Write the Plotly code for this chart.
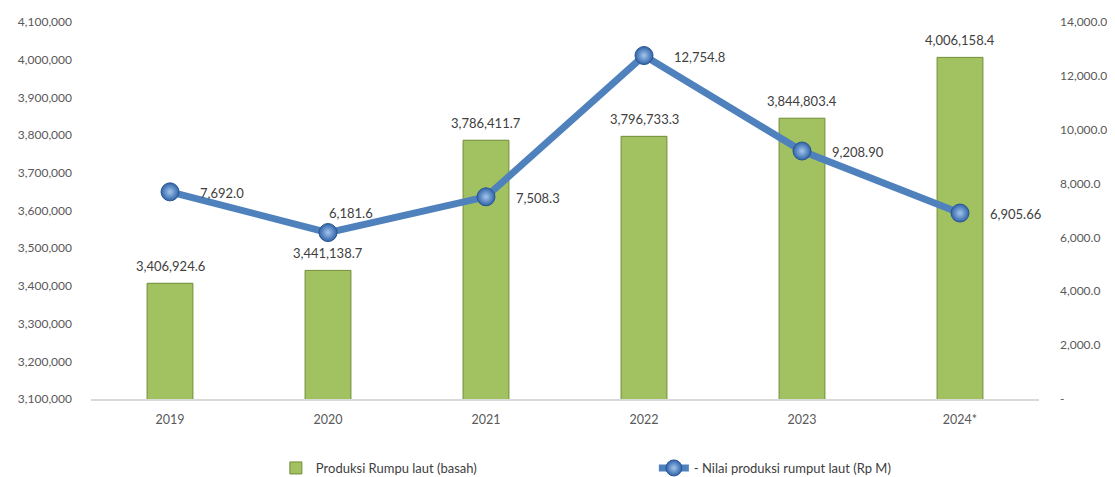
import plotly.graph_objects as go

years = ["2019", "2020", "2021", "2022", "2023", "2024*"]
produksi = [3406924.6, 3441138.7, 3786411.7, 3796733.3, 3844803.4, 4006158.4]
produksi_labels = ["3,406,924.6", "3,441,138.7", "3,786,411.7", "3,796,733.3", "3,844,803.4", "4,006,158.4"]
nilai = [7692.0, 6181.6, 7508.3, 12754.8, 9208.90, 6905.66]
nilai_labels = ["7,692.0", "6,181.6", "7,508.3", "12,754.8", "9,208.90", "6,905.66"]

left_ticks = [3100000 + 100000 * i for i in range(11)]
right_ticks = [0, 2000, 4000, 6000, 8000, 10000, 12000, 14000]
right_ticktext = ["-", "2,000.0", "4,000.0", "6,000.0", "8,000.0", "10,000.0", "12,000.0", "14,000.0"]

xpos = list(range(len(years)))

FONT = "Lato"
TXT = "#404040"

fig = go.Figure()
fig.add_trace(go.Bar(
    x=xpos, y=produksi, name="Produksi Rumpu laut (basah)",
    marker=dict(color="#A2C262", line=dict(color="#6F8C35", width=1)),
    width=0.29,
    cliponaxis=False,
))
fig.add_trace(go.Scatter(
    x=xpos, y=nilai, name="- Nilai produksi rumput laut (Rp M)",
    mode="lines+markers", yaxis="y2",
    line=dict(color="#4F81BD", width=7),
    marker=dict(size=18, color="#2F63A8", line=dict(color="#2A5590", width=1),
                gradient=dict(type="radial", color="#A4C6EE")),
    cliponaxis=False,
))

for i, (v, t) in enumerate(zip(produksi, produksi_labels)):
    fig.add_annotation(x=xpos[i], y=v, xref="x", yref="y", text=t, showarrow=False,
                       xanchor="center", yanchor="bottom", yshift=7,
                       font=dict(family=FONT, size=13, color=TXT))

for i, (v, t) in enumerate(zip(nilai, nilai_labels)):
    if i == 1:
        fig.add_annotation(x=xpos[i], y=v, xref="x", yref="y2", text=t, showarrow=False,
                           xanchor="center", yanchor="middle", xshift=23, yshift=20,
                           font=dict(family=FONT, size=13, color=TXT))
    else:
        fig.add_annotation(x=xpos[i], y=v, xref="x", yref="y2", text=t, showarrow=False,
                           xanchor="left", yanchor="middle", xshift=28, yshift=-1,
                           font=dict(family=FONT, size=13, color=TXT))

fig.update_layout(
    width=1115, height=477,
    margin=dict(l=83, r=84, t=14, b=86, autoexpand=False),
    plot_bgcolor="white", paper_bgcolor="white",
    font=dict(family=FONT, size=12, color="#595959"),
    showlegend=True,
    legend=dict(orientation="h", x=0.195, y=-0.183, xanchor="left", yanchor="middle",
                entrywidth=333, entrywidthmode="pixels",
                font=dict(family=FONT, size=13, color=TXT), traceorder="normal"),
    xaxis=dict(range=[-0.5, 5.5], tickvals=xpos, ticktext=years,
               showgrid=False, zeroline=False, showline=True, linecolor="#D9D9D9", linewidth=2,
               ticks="", tickfont=dict(family=FONT, size=12.5, color="#595959"),
               ticklabelstandoff=8),
    yaxis=dict(range=[3100000, 4100000], tickvals=left_ticks, tickformat=",d",
               showgrid=False, zeroline=False, showline=False, ticks="",
               tickfont=dict(family=FONT, size=12, color="#595959"), ticklabelstandoff=18),
    yaxis2=dict(range=[0, 14000], tickvals=right_ticks, ticktext=right_ticktext,
                overlaying="y", side="right", showgrid=False, zeroline=False, showline=False,
                ticks="", tickfont=dict(family=FONT, size=12, color="#595959"), ticklabelstandoff=20),
)

fig.write_html("out.html")
